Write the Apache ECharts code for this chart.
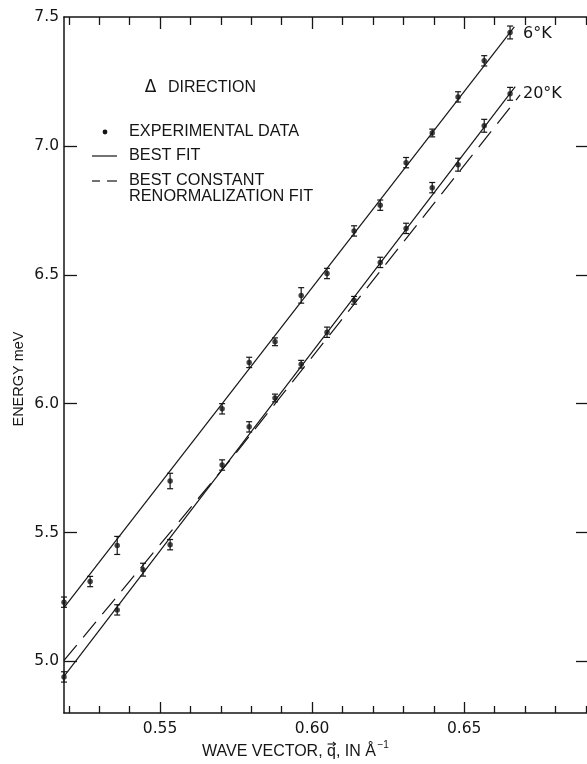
<!DOCTYPE html>
<html><head><meta charset="utf-8">
<script src="https://cdn.jsdelivr.net/npm/echarts@6/dist/echarts.min.js"></script>
<style>html,body{margin:0;padding:0;background:#fff}#c{width:587px;height:764px}</style>
</head><body><div id="c"></div>
<script>
// ---- data ----
const q6K = [0.5184,0.5270,0.5359,0.5533,0.5704,0.5793,0.5878,0.5964,0.6049,0.6138,0.6224,0.6309,0.6395,0.6480,0.6566,0.6651];
const energy6K = [5.23,5.31,5.45,5.70,5.98,6.16,6.24,6.42,6.505,6.67,6.77,6.935,7.05,7.19,7.33,7.44];
const err6K = [0.02,0.02,0.035,0.03,0.02,0.02,0.015,0.03,0.02,0.02,0.02,0.02,0.015,0.02,0.02,0.025];

const q20K = [0.5184,0.5359,0.5444,0.5533,0.5704,0.5793,0.5878,0.5964,0.6049,0.6138,0.6224,0.6309,0.6395,0.6480,0.6566,0.6651];
const energy20K = [4.94,5.20,5.356,5.453,5.762,5.91,6.022,6.153,6.277,6.401,6.548,6.680,6.838,6.927,7.078,7.202];
const err20K = [0.02,0.02,0.025,0.02,0.02,0.02,0.015,0.015,0.02,0.015,0.02,0.02,0.02,0.025,0.025,0.025];

const fit6KQ = [0.5184,0.6665];
const fit6KE = [5.209,7.462];
const fit20KQ = [0.5184,0.6668];
const fit20KE = [4.942,7.23];
const renormQ = [0.5184,0.5747,0.6684];
const renormE = [5.004,5.805,7.198];

const xMajorTicks = [0.55,0.60,0.65];
const xMinorTicks = [0.52,0.53,0.54,0.56,0.57,0.58,0.59,0.61,0.62,0.63,0.64,0.66,0.67,0.68,0.69];
const yTicks = [5.0,5.5,6.0,6.5,7.0];
const yLabels = [5.0,5.5,6.0,6.5,7.0,7.5];
const xMin = 0.5184, xMax = 0.6927, yMin = 4.8, yMax = 7.5;

const INK = '#151515';
const zip = (a,b,c) => a.map((v,i)=> c ? [v,b[i],c[i]] : [v,b[i]]);

function errRender(params, api){
  const q = api.value(0), e = api.value(1), d = api.value(2);
  const t = api.coord([q, e + d]), b = api.coord([q, e - d]);
  const w = 3;
  const st = {stroke: INK, lineWidth: 1.2};
  return {type:'group', children:[
    {type:'line', shape:{x1:t[0],y1:t[1],x2:b[0],y2:b[1]}, style:st},
    {type:'line', shape:{x1:t[0]-w,y1:t[1],x2:t[0]+w,y2:t[1]}, style:st},
    {type:'line', shape:{x1:b[0]-w,y1:b[1],x2:b[0]+w,y2:b[1]}, style:st}
  ]};
}

const axisLineStyle = {color: INK, width: 1.5};
const numFont = {color: INK, fontFamily: 'DejaVu Sans', fontSize: 15.5};

function xAx(pos, ticks, len, showLine, labels){
  return {
    type:'value', position: pos, min:xMin, max:xMax, gridIndex:0,
    axisLine:{show:showLine, lineStyle:axisLineStyle},
    axisTick:{show:true, inside:true, length:len, customValues:ticks, lineStyle:{color:INK,width:1.3}},
    axisLabel: labels ? Object.assign({show:true, customValues:xMajorTicks, margin:8, formatter:v=>v.toFixed(2)}, numFont) : {show:false},
    splitLine:{show:false}
  };
}

// text measuring for the composed x-axis title
const mctx = document.createElement('canvas').getContext('2d');
function tw(t, font){ mctx.font = font; return mctx.measureText(t).width; }
const titleFont = '16px "Liberation Sans"';
const tX = 202, tY = 752;
const part1 = 'WAVE VECTOR, ', partQ = 'q', part2 = ', IN \u00C5';
const w1 = tw(part1, titleFont), wq = tw(partQ, titleFont), w2 = tw(part2, titleFont);
const qx0 = tX + w1, qx1 = qx0 + wq;
const arrowY = 744;

const chart = echarts.init(document.getElementById('c'), null, {renderer:'canvas'});
chart.setOption({
  backgroundColor:'#fff',
  animation:false,
  grid:{left:64, top:17, width:530, height:696, containLabel:false, outerBoundsMode:'none'},
  xAxis:[
    xAx('bottom', xMajorTicks, 11, true, true),
    xAx('bottom', xMinorTicks, 7, false, false),
    xAx('top', xMajorTicks, 12, true, false),
    xAx('top', xMinorTicks, 8, false, false)
  ],
  yAxis:[
    {type:'value', position:'left', min:yMin, max:yMax,
     axisLine:{show:true, lineStyle:axisLineStyle},
     axisTick:{show:true, inside:true, length:13, customValues:yTicks, lineStyle:{color:INK,width:1.3}},
     axisLabel:Object.assign({show:true, customValues:yLabels, margin:5, formatter:v=>v.toFixed(1)}, numFont),
     splitLine:{show:false}},
    {type:'value', position:'right', min:yMin, max:yMax,
     axisLine:{show:true, lineStyle:axisLineStyle},
     axisTick:{show:true, inside:true, length:18, customValues:yTicks, lineStyle:{color:INK,width:1.3}},
     axisLabel:{show:false}, splitLine:{show:false}}
  ],
  series:[
    {type:'line', data:zip(fit6KQ,fit6KE), showSymbol:false, symbol:'none', lineStyle:{color:INK,width:1.2}, silent:true},
    {type:'line', data:zip(fit20KQ,fit20KE), showSymbol:false, symbol:'none', lineStyle:{color:INK,width:1.2}, silent:true},
    {type:'line', data:zip(renormQ,renormE), showSymbol:false, symbol:'none', lineStyle:{color:INK,width:1.2,type:[20,10]}, silent:true},
    {type:'custom', renderItem:errRender, data:zip(q6K,energy6K,err6K), encode:{x:0,y:1}, z:3},
    {type:'custom', renderItem:errRender, data:zip(q20K,energy20K,err20K), encode:{x:0,y:1}, z:3},
    {type:'scatter', data:zip(q6K,energy6K), symbol:'circle', symbolSize:5.5, itemStyle:{color:INK}, z:4},
    {type:'scatter', data:zip(q20K,energy20K), symbol:'circle', symbolSize:5.5, itemStyle:{color:INK}, z:4}
  ],
  graphic:[
    {type:'text', x:19, y:379, rotation:Math.PI/2,
     style:{text:'ENERGY meV', x:0, y:0, align:'center', verticalAlign:'middle', fill:INK, font:'14.5px "Liberation Sans"'}},
    {type:'text', x:tX, y:tY,
     style:{text:part1 + partQ + part2, align:'left', verticalAlign:'middle', fill:INK, font:titleFont}},
    {type:'line', shape:{x1:qx0+0.5, y1:arrowY, x2:qx1-0.5, y2:arrowY}, style:{stroke:INK, lineWidth:1.1}},
    {type:'polyline', shape:{points:[[qx1-3, arrowY-2.2],[qx1-0.5, arrowY],[qx1-3, arrowY+2.2]]}, style:{stroke:INK, lineWidth:1.1, fill:null}},
    {type:'text', x:tX + w1 + wq + w2 + 1.5, y:745,
     style:{text:'\u22121', align:'left', verticalAlign:'middle', fill:INK, font:'10px "Liberation Sans"'}},
    {type:'text', x:150.5, y:88,
     style:{text:'\u0394', align:'center', verticalAlign:'middle', fill:INK, font:'17px "DejaVu Sans"'}},
    {type:'text', x:168, y:88,
     style:{text:'DIRECTION', align:'left', verticalAlign:'middle', fill:INK, font:'16px "Liberation Sans"'}},
    {type:'circle', shape:{cx:105, cy:132, r:2.4}, style:{fill:INK}},
    {type:'text', x:129, y:132,
     style:{text:'EXPERIMENTAL DATA', align:'left', verticalAlign:'middle', fill:INK, font:'16.3px "Liberation Sans"'}},
    {type:'line', shape:{x1:92,y1:156,x2:117,y2:156}, style:{stroke:INK, lineWidth:1.2}},
    {type:'text', x:129, y:156,
     style:{text:'BEST FIT', align:'left', verticalAlign:'middle', fill:INK, font:'16.3px "Liberation Sans"'}},
    {type:'line', shape:{x1:92,y1:181,x2:100,y2:181}, style:{stroke:INK, lineWidth:1.2}},
    {type:'line', shape:{x1:107,y1:181,x2:117,y2:181}, style:{stroke:INK, lineWidth:1.2}},
    {type:'text', x:129, y:181,
     style:{text:'BEST CONSTANT', align:'left', verticalAlign:'middle', fill:INK, font:'16.3px "Liberation Sans"'}},
    {type:'text', x:129, y:197,
     style:{text:'RENORMALIZATION FIT', align:'left', verticalAlign:'middle', fill:INK, font:'16.3px "Liberation Sans"'}},
    {type:'text', x:523, y:34,
     style:{text:'6\u00B0K', align:'left', verticalAlign:'middle', fill:INK, font:'16px "DejaVu Sans"'}},
    {type:'text', x:523, y:94,
     style:{text:'20\u00B0K', align:'left', verticalAlign:'middle', fill:INK, font:'16px "DejaVu Sans"'}}
  ]
});
</script></body></html>
